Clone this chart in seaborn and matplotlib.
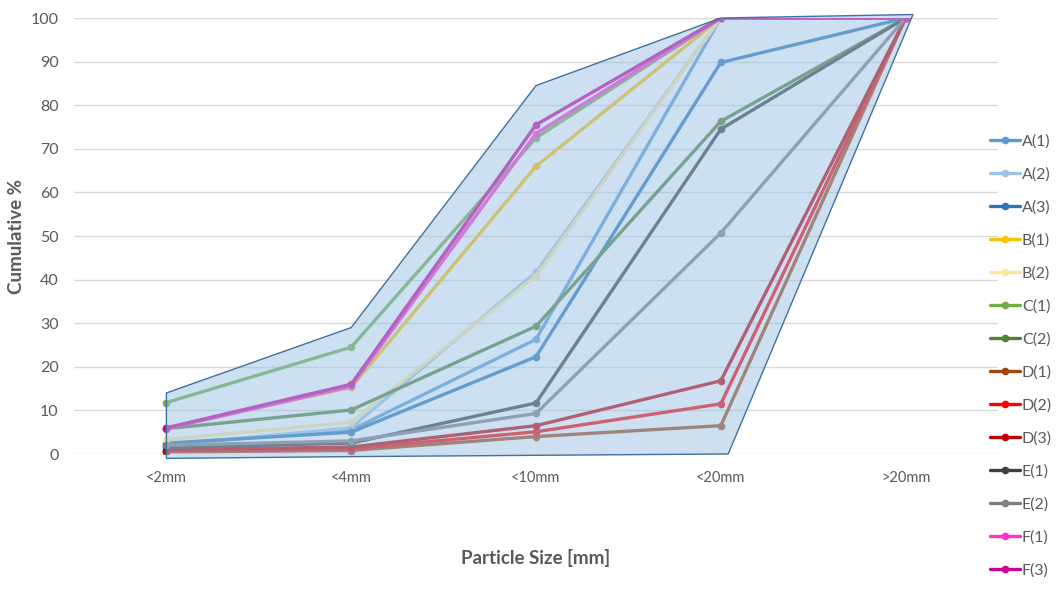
import matplotlib
matplotlib.use("Agg")
import matplotlib.pyplot as plt
from matplotlib.patches import Polygon
import seaborn as sns
import pandas as pd
import numpy as np

# ---- data ----
categories = ["<2mm", "<4mm", "<10mm", "<20mm", ">20mm"]
series_names = ["A(1)", "A(2)", "A(3)", "B(1)", "B(2)", "C(1)", "C(2)",
                "D(1)", "D(2)", "D(3)", "E(1)", "E(2)", "F(1)", "F(3)"]
A1 = [2.2, 5.5, 26.3, 100, 100]
A2 = [2.0, 6.0, 41.7, 100, 100]
A3 = [2.5, 5.0, 22.3, 89.8, 100]
B1 = [6.0, 15.3, 66.0, 100, 100]
B2 = [3.3, 7.3, 40.9, 100, 100]
C1 = [11.8, 24.5, 72.5, 100, 100]
C2 = [5.8, 10.1, 29.3, 76.3, 100]
D1 = [0.5, 0.8, 4.0, 6.5, 100]
D2 = [0.7, 1.2, 5.1, 11.5, 100]
D3 = [1.0, 1.6, 6.5, 16.8, 100]
E1 = [1.5, 2.5, 11.7, 74.5, 100]
E2 = [2.0, 3.0, 9.3, 50.7, 100]
F1 = [5.8, 15.5, 73.5, 100, 100]
F3 = [6.0, 16.0, 75.5, 100, 100]
series_values = [A1, A2, A3, B1, B2, C1, C2, D1, D2, D3, E1, E2, F1, F3]
colors = ["#5B9BD5", "#9DC3E6", "#2E75B6", "#FFC000", "#FFE699", "#70AD47",
          "#548235", "#9E480E", "#FF0000", "#C00000", "#404040", "#7F7F7F",
          "#FF33CC", "#CC0099"]

# envelope (shaded band) drawn over the curves
env_upper_x = [0, 1, 2, 3, 4.04]
env_upper_y = [14.0, 29.0, 84.5, 100.0, 100.8]
env_lower_x = [3.04, 2, 1, 0]
env_lower_y = [0.0, -0.3, -0.6, -1.0]

# ---- long-form table ----
rows = []
for name, vals in zip(series_names, series_values):
    for i, v in enumerate(vals):
        rows.append({"series": name, "pos": i, "value": v})
df = pd.DataFrame(rows)

sns.set_theme(style="white")
plt.rcParams["font.family"] = ["Lato", "DejaVu Sans"]

fig = plt.figure(figsize=(10.6, 6.01), dpi=100)
ax = fig.add_axes([74 / 1060, 1 - 454 / 601, (998 - 74) / 1060, (454 - 18) / 601])

palette = dict(zip(series_names, colors))
sns.lineplot(data=df, x="pos", y="value", hue="series", hue_order=series_names,
             palette=palette, marker="o", markersize=5.5, markeredgewidth=0,
             linewidth=2.4, sort=False, estimator=None, ax=ax, zorder=2)

# envelope polygon
pts = list(zip(env_upper_x, env_upper_y)) + list(zip(env_lower_x, env_lower_y))
ax.add_patch(Polygon(pts, closed=True, facecolor=(0x9D / 255, 0xC3 / 255, 0xE6 / 255, 0.5),
                     edgecolor="#41719C", linewidth=1.0, zorder=3, clip_on=False))

ax.set_xlim(-0.5, 4.5)
ax.set_ylim(0, 100)
ax.set_xticks(range(len(categories)))
ax.set_xticklabels(categories)
ax.set_yticks(np.arange(0, 101, 10))
ax.tick_params(axis="both", length=0, colors="#595959")
ax.tick_params(axis="x", pad=12, labelsize=10.5)
ax.tick_params(axis="y", pad=11, labelsize=11.5)
ax.yaxis.grid(True, color="#D9D9D9", linewidth=1)
ax.xaxis.grid(False)
ax.set_axisbelow(True)
for s in ax.spines.values():
    s.set_visible(False)

ax.set_xlabel("Particle Size [mm]", fontsize=13.5, fontweight="bold", color="#595959", labelpad=46)
ax.set_ylabel("Cumulative %", fontsize=13.5, fontweight="bold", color="#595959", labelpad=4)

handles, labels = ax.get_legend_handles_labels()
ax.get_legend().remove()
leg = fig.legend(handles, labels, loc="center left",
                 bbox_to_anchor=(990 / 1060, 1 - 356 / 601),
                 frameon=False, fontsize=11.5, labelspacing=1.17, handlelength=1.9,
                 handletextpad=0.1, borderpad=0, borderaxespad=0)
for t in leg.get_texts():
    t.set_color("#595959")

fig.savefig("out.png", dpi=100)
